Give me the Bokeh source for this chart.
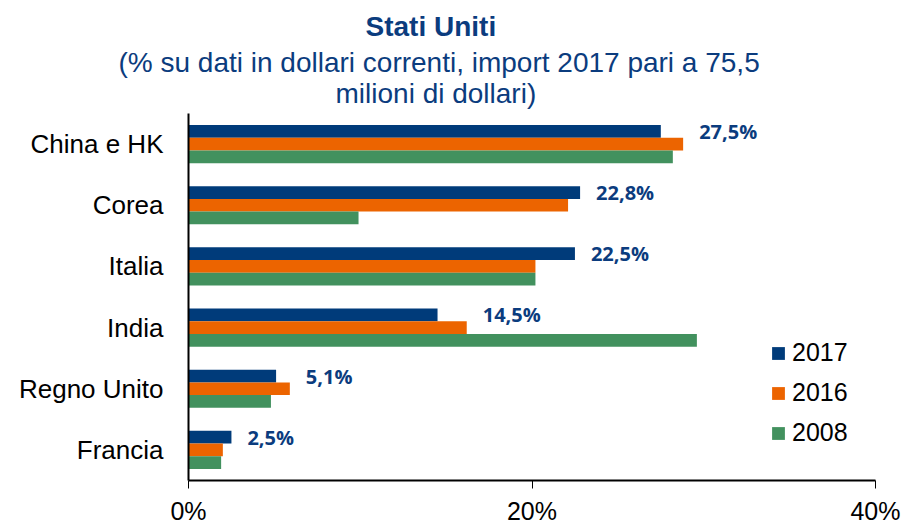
from bokeh.plotting import figure
from bokeh.models import (FactorRange, Range1d, ColumnDataSource, Legend, LegendItem,
                          Title, FixedTicker, PrintfTickFormatter)
from bokeh.transform import dodge
from bokeh.core.properties import value
from bokeh.embed import file_html
from bokeh.resources import INLINE

# ---- data ----
countries = ["China e HK", "Corea", "Italia", "India", "Regno Unito", "Francia"]
v2017 = [27.5, 22.8, 22.5, 14.5, 5.1, 2.5]
v2016 = [28.8, 22.1, 20.2, 16.2, 5.9, 2.0]
v2008 = [28.2, 9.9, 20.2, 29.6, 4.8, 1.9]
labels_2017 = ["27,5%", "22,8%", "22,5%", "14,5%", "5,1%", "2,5%"]
years = ["2017", "2016", "2008"]
x_ticks = [0, 20, 40]

title_text = "Stati Uniti"
subtitle_line1 = "(% su dati in dollari correnti, import 2017 pari a 75,5"
subtitle_line2 = "milioni di dollari)"

# ---- style ----
C2017 = "#003B7A"
C2016 = "#EC6400"
C2008 = "#42915E"
TXT_BLUE = "#0B3C7E"
FONT = "Liberation Sans"

src = ColumnDataSource(dict(
    country=countries, v2017=v2017, v2016=v2016, v2008=v2008,
    lab=labels_2017, lab_x=[max(a, b) for a, b in zip(v2017, v2016)],
))

p = figure(width=904, height=532,
           y_range=FactorRange(factors=countries[::-1]),
           x_range=Range1d(0, 40),
           output_backend="svg", toolbar_location=None,
           min_border_left=188, min_border_right=29, min_border_bottom=52,
           min_border_top=0)

bh = 0.208
r1 = p.hbar(y=dodge("country", bh, range=p.y_range), left=0, right="v2017", height=bh,
            source=src, fill_color=C2017, line_color=None)
r2 = p.hbar(y=dodge("country", 0, range=p.y_range), left=0, right="v2016", height=bh,
            source=src, fill_color=C2016, line_color=None)
r3 = p.hbar(y=dodge("country", -bh, range=p.y_range), left=0, right="v2008", height=bh,
            source=src, fill_color=C2008, line_color=None)

p.text(x="lab_x", y=dodge("country", bh, range=p.y_range), text="lab", source=src,
       x_offset=16, text_baseline="middle", text_align="left",
       text_font=value("Open Sans"), text_font_style="bold", text_font_size="20px",
       text_color=TXT_BLUE)

legend = Legend(items=[LegendItem(label=years[0], renderers=[r1]),
                       LegendItem(label=years[1], renderers=[r2]),
                       LegendItem(label=years[2], renderers=[r3])],
                location=(582, 33), orientation="vertical",
                glyph_width=16, glyph_height=16, label_standoff=6,
                spacing=11, padding=0, margin=0,
                label_text_font=FONT, label_text_font_size="25px",
                label_text_color="black",
                border_line_color=None, background_fill_alpha=0)
p.add_layout(legend, "center")

# axes
p.xaxis.ticker = FixedTicker(ticks=x_ticks)
p.xaxis.formatter = PrintfTickFormatter(format="%d%%")
p.xaxis.axis_line_color = "black"
p.xaxis.axis_line_width = 2
p.xaxis.major_tick_out = 8
p.xaxis.major_tick_in = 0
p.xaxis.major_tick_line_color = "black"
p.xaxis.major_tick_line_width = 1
p.xaxis.minor_tick_line_color = None
p.xaxis.major_label_text_font = FONT
p.xaxis.major_label_text_font_size = "25px"
p.xaxis.major_label_text_color = "black"
p.xaxis.major_label_standoff = 8

p.yaxis.axis_line_color = "black"
p.yaxis.axis_line_width = 2
p.yaxis.major_tick_line_color = None
p.yaxis.minor_tick_line_color = None
p.yaxis.major_tick_out = 0
p.yaxis.major_tick_in = 0
p.yaxis.major_label_text_font = FONT
p.yaxis.major_label_text_font_size = "26px"
p.yaxis.major_label_text_color = "black"
p.yaxis.major_label_standoff = 25

p.xgrid.grid_line_color = None
p.ygrid.grid_line_color = None
p.outline_line_color = None

# titles (added later = placed higher); offsets measured from the frame's left edge
p.add_layout(Title(text=subtitle_line2, align="left", offset=147,
                   text_font=FONT, text_font_size="28px", text_font_style="normal",
                   text_color=TXT_BLUE, standoff=9), "above")
p.add_layout(Title(text=subtitle_line1, align="left", offset=-70,
                   text_font=FONT, text_font_size="28px", text_font_style="normal",
                   text_color=TXT_BLUE, standoff=-12), "above")
p.add_layout(Title(text=title_text, align="left", offset=177,
                   text_font=FONT, text_font_size="28px", text_font_style="bold",
                   text_color=TXT_BLUE, standoff=17), "above")

open("out.html", "w").write(file_html(p, INLINE))
